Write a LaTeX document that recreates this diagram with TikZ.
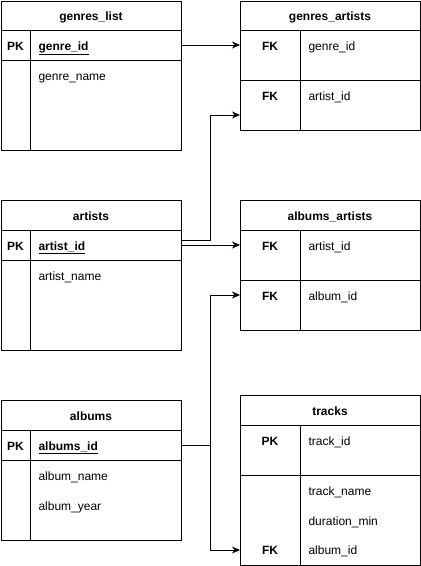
\documentclass[tikz,border=0pt]{standalone}
\usepackage{fontspec}
\setmainfont{Liberation Sans}
\usetikzlibrary{arrows.meta}
\begin{document}
\begin{tikzpicture}[x=1pt,y=-1pt,line width=1pt,
  tbl/.style={draw,line width=1pt,minimum width=180pt,inner sep=0pt,anchor=north west},
  ttl/.style={font=\bfseries\fontsize{12}{14}\selectfont,inner sep=0pt,anchor=base,yshift=-5.5pt},
  txt/.style={font=\fontsize{12}{14}\selectfont,anchor=base west,inner sep=0pt,yshift=-5.5pt},
  key/.style={font=\bfseries\fontsize{12}{14}\selectfont,inner sep=0pt,anchor=base,yshift=-5.5pt},
  conn/.style={line width=1pt,-{Stealth[length=8pt,width=7pt,inset=2.5pt]}}]
\useasboundingbox (0,0) rectangle (421,566);

% genres_list
\node[tbl,minimum height=149pt] (gl) at (1,1) {};
\draw (1,30) -- (181,30) (1,60) -- (181,60) (30,30) -- (30,150);
\node[ttl] (glt) at (91,15) {genres\_list};
\node[key] (glk) at (15.5,45) {PK};
\node[txt] (glid) at (38,45) {\textbf{\underline{genre\_id}}};
\node[txt] (glnm) at (38,75) {genre\_name};

% artists
\node[tbl,minimum height=150pt] (ar) at (1,200) {};
\draw (1,230) -- (181,230) (1,260) -- (181,260) (30,230) -- (30,350);
\node[ttl] (art) at (91,215) {artists};
\node[key] (ark) at (15.5,245) {PK};
\node[txt] (arid) at (38,245) {\textbf{\underline{artist\_id}}};
\node[txt] (arnm) at (38,275) {artist\_name};

% albums
\node[tbl,minimum height=140pt] (al) at (1,400) {};
\draw (1,430) -- (181,430) (1,460) -- (181,460) (30,430) -- (30,540);
\node[ttl] (alt) at (91,415) {albums};
\node[key] (alk) at (15.5,445) {PK};
\node[txt] (alid) at (38,445) {\textbf{\underline{albums\_id}}};
\node[txt] (alnm) at (38,475) {album\_name};
\node[txt] (alyr) at (38,505) {album\_year};

% genres_artists
\node[tbl,minimum height=129pt] (ga) at (240,1) {};
\draw (240,30) -- (420,30) (240,80) -- (420,80) (300,30) -- (300,130);
\node[ttl] (gat) at (330,15) {genres\_artists};
\node[key] (gak1) at (270,45) {FK};
\node[txt] (gag) at (308,45) {genre\_id};
\node[key] (gak2) at (270,95) {FK};
\node[txt] (gaa) at (308,95) {artist\_id};

% albums_artists
\node[tbl,minimum height=130pt] (aa) at (240,200) {};
\draw (240,230) -- (420,230) (240,280) -- (420,280) (300,230) -- (300,330);
\node[ttl] (aat) at (330,215) {albums\_artists};
\node[key] (aak1) at (270,245) {FK};
\node[txt] (aaa) at (308,245) {artist\_id};
\node[key] (aak2) at (270,295) {FK};
\node[txt] (aab) at (308,295) {album\_id};

% tracks
\node[tbl,minimum height=170pt] (tr) at (240,395) {};
\draw (240,425) -- (420,425) (240,475) -- (420,475) (300,425) -- (300,565);
\node[ttl] (trt) at (330,410) {tracks};
\node[key] (trk1) at (270,440) {PK};
\node[txt] (trid) at (308,440) {track\_id};
\node[txt] (trnm) at (308,490) {track\_name};
\node[txt] (trdu) at (308,520) {duration\_min};
\node[key] (trk2) at (270,549) {FK};
\node[txt] (tral) at (308,549) {album\_id};

% connector end points
\coordinate (c1s) at (181,45);  \coordinate (c1e) at (240,45);
\coordinate (c2s) at (181,240); \coordinate (c2e) at (240,115);
\coordinate (c3s) at (181,245); \coordinate (c3e) at (240,245);
\coordinate (c4s) at (181,445); \coordinate (c4e) at (240,295);
\coordinate (c5e) at (240,550);

\draw[conn] (c1s) -- (c1e);
\draw[conn] (c2s) -- (210,240) -- (210,115) -- (c2e);
\draw[conn] (c3s) -- (c3e);
\draw[conn] (c4s) -- (210,445) -- (210,295) -- (c4e);
\draw[conn] (c4s) -- (210,445) -- (210,550) -- (c5e);
\end{tikzpicture}
\end{document}
